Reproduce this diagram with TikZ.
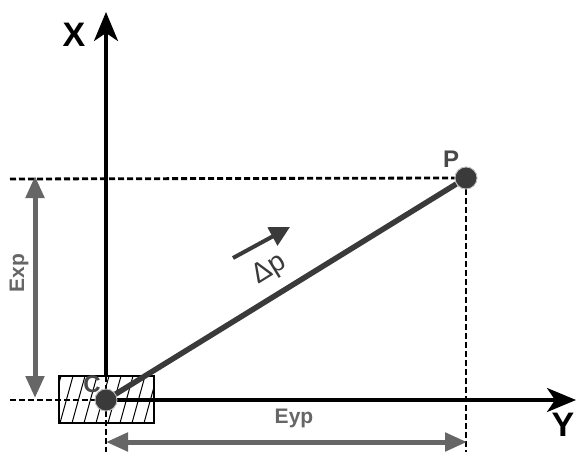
\documentclass[tikz,border=0pt]{standalone}
\usepackage{fontspec}
\setmainfont{Liberation Sans}
\usetikzlibrary{arrows.meta}
\definecolor{dk}{HTML}{3A3A3A}
\definecolor{gr}{HTML}{666666}
\definecolor{lb}{HTML}{484848}
\begin{document}
\begin{tikzpicture}[x=1pt,y=-1pt,
  dot/.style={circle,fill=dk,draw=gray!45,line width=0.8pt,minimum size=22pt,inner sep=0pt},
  dashline/.style={line width=2.8pt,dash pattern=on 6pt off 3pt},
  axis/.style={line width=3.5pt,-{Stealth[length=29pt,width=24pt,inset=8pt]}},
  dim/.style={gr,line width=5pt,{Triangle[length=22pt,width=18pt]}-{Triangle[length=22pt,width=18pt]}},
  big/.style={font=\fontsize{34}{40}\selectfont\bfseries},
  mid/.style={font=\fontsize{24}{28}\selectfont\bfseries,text=lb},
  small/.style={font=\fontsize{21}{24}\selectfont\bfseries,text=gr}
]
\useasboundingbox (0,0) rectangle (577,452);
% hatched box
\coordinate (r1) at (59,376);
\coordinate (r2) at (154,423);
\begin{scope}
  \clip (r1) rectangle (r2);
  \foreach \i in {-24,-12,...,160}
    \draw[line width=1pt] (\i,423) -- ++(13,-47);
\end{scope}
\draw[line width=2.2pt] (r1) rectangle (r2);
% points
\node[dot] (C) at (106,400) {};
\node[dot] (P) at (466,178) {};
% dashed guides
\coordinate (hl1) at (10,179);
\coordinate (hl2) at (10,400);
\coordinate (vb1) at (106,452);
\coordinate (vb2) at (467,452);
\draw[dashline] (hl1) -- (P.west);
\draw[dashline] (hl2) -- (C.west);
\draw[dashline] (C.south) -- (vb1);
\draw[dashline] (P.south) -- (P.south |- vb2);
\draw[dashline] (106,376) -- (C.north);
% axes
\coordinate (xt) at (106,12);
\coordinate (xb) at (106,376);
\coordinate (yt) at (576,400);
\draw[axis] (xb) -- (xt);
\draw[axis] (C.east) -- (yt);
\node[big] (xl) at (74,35) {X};
\node[big] (yl) at (563,425) {Y};
% main line
\draw[dk,line width=5.5pt] (C.center) -- (P);
\node[dot] at (C) {};
\node[dot] at (P) {};
% labels
\node[mid] (pl) at (451,159) {P};
\node[mid] (cl) at (92,384) {C};
% small arrow and delta p
\coordinate (a1) at (233,258);
\coordinate (a2) at (290,227);
\draw[dk,line width=4pt,-{Triangle[length=20pt,width=20pt]}] (a1) -- (a2);
\node[rotate=31.7,text=dk,font=\fontsize{28}{30}\selectfont,inner sep=0pt] (dp) at (270,270) {Δp};
% dimension arrows
\coordinate (e1) at (35,398);
\coordinate (e2) at (35,176);
\coordinate (f1) at (106,442);
\coordinate (f2) at (467,442);
\draw[dim] (e1) -- (e2);
\draw[dim] (f1) -- (f2);
\node[small,rotate=90] (exp) at (19,273) {Exp};
\node[small] (eyp) at (294,418) {Eyp};
\end{tikzpicture}
\end{document}
